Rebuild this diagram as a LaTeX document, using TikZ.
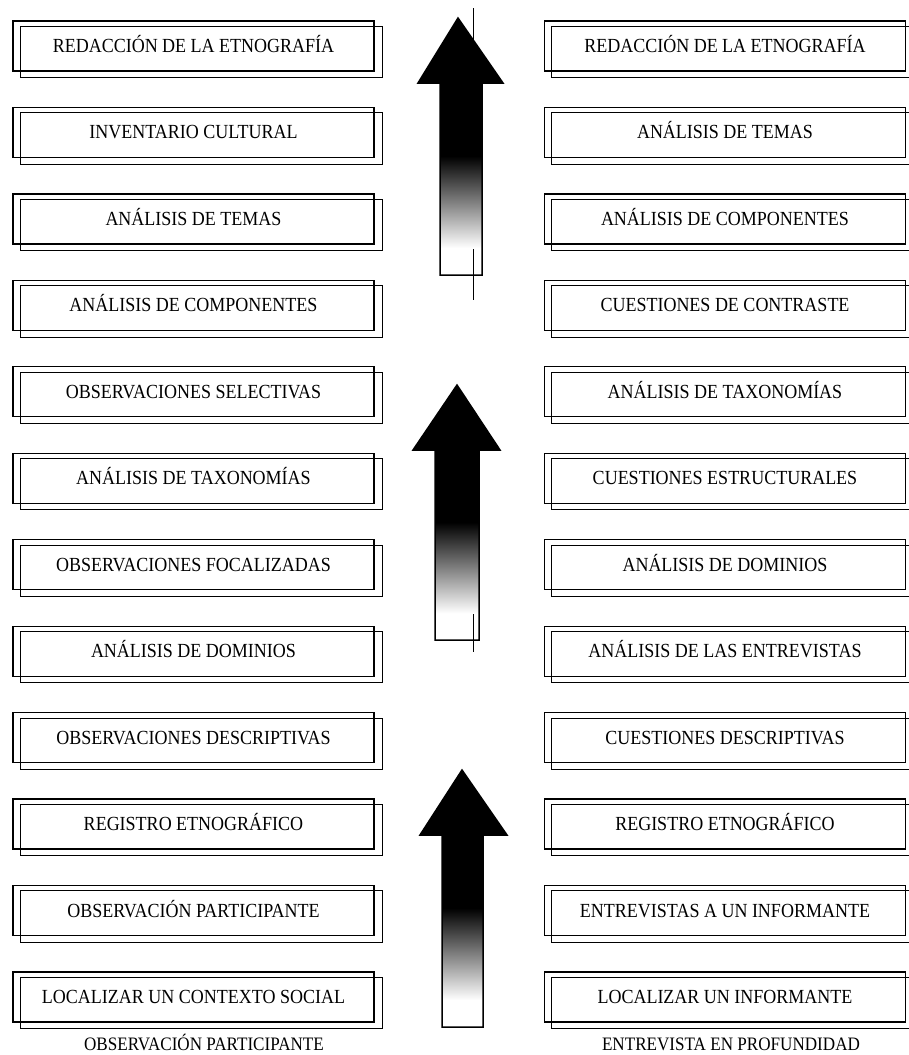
\documentclass[tikz,border=0pt]{standalone}
\usepackage{fontspec}
\setmainfont{Liberation Serif}[FakeStretch=0.9]
\newcommand\myarrow[8]{%
  \fill[black] (#6,#5) rectangle (#7,{#5+0.38*(#8-#5)});
  \shade[top color=black, bottom color=white] (#6,{#5+0.38*(#8-#5)}) rectangle (#7,{#5+0.86*(#8-#5)});
  \fill[black] (#3,#5) -- (#1,#2) -- (#4,#5) -- cycle;
  \draw[arrowline] (#6,#8) -- (#6,#5) -- (#3,#5) -- (#1,#2) -- (#4,#5) -- (#7,#5) -- (#7,#8) -- cycle;
}
\begin{document}
\begin{tikzpicture}[x=1pt,y=-1pt,
  box/.style={draw, line width=1.3pt, minimum width=361pt, minimum height=50pt,
    inner sep=0pt, text height=13pt, text depth=0pt,
    font=\fontsize{20}{23}\selectfont},
  backbox/.style={draw, line width=0.9pt},
  lab/.style={anchor=base, inner sep=0pt, font=\fontsize{19}{22}\selectfont},
  arrowline/.style={line width=1.5pt, line join=miter},
  guide/.style={line width=0.6pt}]
\useasboundingbox (0,0) rectangle (909,1055);
% thin vertical guide lines (behind arrows)
\draw[guide] (473,8) -- (473,300);
\draw[guide] (473,412) -- (473,652);
% left column
\foreach \t [count=\i] in {REDACCIÓN DE LA ETNOGRAFÍA, INVENTARIO CULTURAL, ANÁLISIS DE TEMAS, ANÁLISIS DE COMPONENTES, OBSERVACIONES SELECTIVAS, ANÁLISIS DE TAXONOMÍAS, OBSERVACIONES FOCALIZADAS, ANÁLISIS DE DOMINIOS, OBSERVACIONES DESCRIPTIVAS, REGISTRO ETNOGRÁFICO, OBSERVACIÓN PARTICIPANTE, LOCALIZAR UN CONTEXTO SOCIAL}{
  \node[box] (L\i) at (193.5, {46+86.45*(\i-1)}) {\t};
  \draw[backbox] ([shift={(8,6)}]L\i.north west) rectangle ([shift={(8,6)}]L\i.south east);
}
% right column
\foreach \t [count=\i] in {REDACCIÓN DE LA ETNOGRAFÍA, ANÁLISIS DE TEMAS, ANÁLISIS DE COMPONENTES, CUESTIONES DE CONTRASTE, ANÁLISIS DE TAXONOMÍAS, CUESTIONES ESTRUCTURALES, ANÁLISIS DE DOMINIOS, ANÁLISIS DE LAS ENTREVISTAS, CUESTIONES DESCRIPTIVAS, REGISTRO ETNOGRÁFICO, ENTREVISTAS A UN INFORMANTE, LOCALIZAR UN INFORMANTE}{
  \node[box] (R\i) at (725, {46+86.45*(\i-1)}) {\t};
  \draw[backbox] ([shift={(8,6)}]R\i.north west) rectangle ([shift={(8,6)}]R\i.south east);
}
% arrows
\myarrow{458}{18}{418}{503}{83}{440}{482}{275}
\myarrow{457}{385}{413}{500}{450}{435}{479}{640}
\myarrow{462}{770}{420}{507}{835}{442}{483}{1027}
% bottom labels
\node[lab] (labL) at (204,1050) {OBSERVACIÓN PARTICIPANTE};
\node[lab] (labR) at (731,1050) {ENTREVISTA EN PROFUNDIDAD};
\end{tikzpicture}
\end{document}
